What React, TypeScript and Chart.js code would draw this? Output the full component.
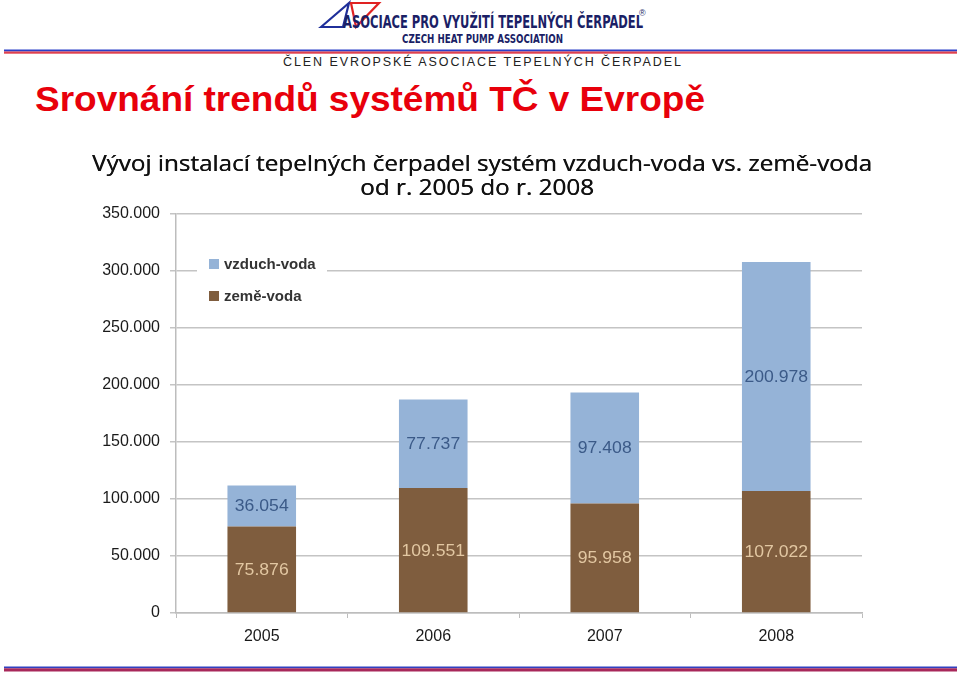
import React, { useEffect, useRef } from 'react';
import { Chart, registerables } from 'chart.js';

Chart.register(...registerables);

// ---- data ----
const years = ['2005', '2006', '2007', '2008'];
const zemeVoda = [75876, 109551, 95958, 107022];
const vzduchVoda = [36054, 77737, 97408, 200978];
const seriesNames = ['vzduch-voda', 'země-voda'];
const yMax = 350000;
const yStep = 50000;
const chartTitleLines = [
  'Vývoj instalací tepelných čerpadel systém vzduch-voda vs. země-voda',
  'od r. 2005 do r. 2008',
];
const slideTitle = 'Srovnání trendů systémů TČ v Evropě';
const assocName = 'ASOCIACE PRO VYUŽITÍ TEPELNÝCH ČERPADEL';
const assocEnglish = 'CZECH HEAT PUMP ASSOCIATION';
const memberLine = 'ČLEN EVROPSKÉ ASOCIACE TEPELNÝCH ČERPADEL';

const BLUE = '#95B3D7';
const BROWN = '#7F5D3E';
const BLUE_LABEL = '#3B5A88';
const BROWN_LABEL = '#E2C7A2';

const fmt = (v: number) => {
  if (v === 0) return '0';
  const s = String(Math.round(v));
  return s.replace(/\B(?=(\d{3})+(?!\d))/g, '.');
};

const decorPlugin = {
  id: 'decor',
  afterDatasetsDraw(chart: any) {
    const ctx = chart.ctx;
    ctx.save();
    ctx.textAlign = 'center';
    ctx.textBaseline = 'middle';
    ctx.font = '16px "Liberation Sans", Arial, sans-serif';
    chart.data.datasets.forEach((ds: any, di: number) => {
      const meta = chart.getDatasetMeta(di);
      meta.data.forEach((el: any, i: number) => {
        const v = ds.data[i];
        const cy = (el.y + el.base) / 2;
        ctx.save();
        ctx.translate(el.x, cy);
        ctx.scale(1.1, 1);
        ctx.fillStyle = ds.labelColor;
        ctx.fillText(fmt(v), 0, 1);
        ctx.restore();
      });
    });
    ctx.restore();
  },
  afterDraw(chart: any) {
    const ctx = chart.ctx;
    const area = chart.chartArea;
    ctx.save();
    // chart title
    ctx.fillStyle = '#111111';
    ctx.textAlign = 'center';
    ctx.textBaseline = 'middle';
    ctx.font = '22px "Open Sans", "DejaVu Sans", sans-serif';
    const w0 = ctx.measureText(chartTitleLines[0]).width;
    const sx = 780 / w0;
    [
      { x: 482, y: 25 },
      { x: 477, y: 49 },
    ].forEach((p, i) => {
      ctx.save();
      ctx.translate(p.x, p.y);
      ctx.scale(sx, 1);
      ctx.fillText(chartTitleLines[i], 0, 0);
      ctx.fillText(chartTitleLines[i], 0.35, 0);
      ctx.restore();
    });
    // legend inside chart area
    const lx = area.left + 21;
    const ly = area.top + 36;
    ctx.fillStyle = '#ffffff';
    ctx.fillRect(lx, ly, 130, 60);
    const items = [
      { name: seriesNames[0], color: BLUE },
      { name: seriesNames[1], color: BROWN },
    ];
    ctx.font = 'bold 15px "Liberation Sans", Arial, sans-serif';
    ctx.textAlign = 'left';
    items.forEach((it, i) => {
      const y = ly + 14 + i * 32;
      ctx.fillStyle = it.color;
      ctx.fillRect(lx + 12, y - 5, 10, 10);
      ctx.fillStyle = '#333333';
      ctx.fillText(it.name, lx + 27, y + 1);
    });
    ctx.restore();
  },
};

function ChartCanvas() {
  const ref = useRef<HTMLCanvasElement>(null);
  useEffect(() => {
    if (!ref.current) return;
    const chart = new Chart(ref.current, {
      type: 'bar',
      data: {
        labels: years,
        datasets: [
          {
            label: seriesNames[1],
            data: zemeVoda,
            backgroundColor: BROWN,
            barPercentage: 0.4,
            categoryPercentage: 1,
            labelColor: BROWN_LABEL,
          } as any,
          {
            label: seriesNames[0],
            data: vzduchVoda,
            backgroundColor: BLUE,
            barPercentage: 0.4,
            categoryPercentage: 1,
            labelColor: BLUE_LABEL,
          } as any,
        ],
      },
      options: {
        animation: false,
        responsive: false,
        maintainAspectRatio: false,
        layout: { padding: { left: 0, right: 98, top: 74, bottom: 0 } },
        plugins: {
          legend: { display: false },
          title: { display: false },
          tooltip: { enabled: false },
        },
        scales: {
          x: {
            stacked: true,
            border: { display: true, color: '#BDBDBD', width: 1.5 },
            grid: {
              display: true,
              drawOnChartArea: false,
              drawTicks: true,
              tickLength: 5,
              color: '#BDBDBD',
              offset: true,
            },
            ticks: {
              color: '#1a1a1a',
              font: { family: '"Liberation Sans", Arial, sans-serif', size: 16 },
              padding: 9,
            },
            afterFit: (scale: any) => {
              scale.height = 47;
            },
          },
          y: {
            stacked: true,
            min: 0,
            max: yMax,
            border: { display: true, color: '#BDBDBD', width: 1.5 },
            grid: {
              color: '#C4C4C4',
              lineWidth: 1.5,
              tickLength: 6,
              drawTicks: true,
            },
            ticks: {
              stepSize: yStep,
              color: '#1a1a1a',
              font: { family: '"Liberation Sans", Arial, sans-serif', size: 16 },
              padding: 10,
              callback: (v: any) => fmt(Number(v)),
            },
            afterFit: (scale: any) => {
              scale.width = 176;
            },
          },
        },
      },
      plugins: [decorPlugin],
    });
    return () => chart.destroy();
  }, []);
  return (
    <canvas
      ref={ref}
      width={960}
      height={520}
      style={{ position: 'absolute', left: 0, top: 140, width: 960, height: 520 }}
    />
  );
}

export default function App() {
  return (
    <div
      style={{
        position: 'absolute',
        left: 0,
        top: 0,
        width: 960,
        height: 676,
        overflow: 'hidden',
        background: '#ffffff',
      }}
    >
      <svg
        width={960}
        height={676}
        style={{ position: 'absolute', left: 0, top: 0 }}
        xmlns="http://www.w3.org/2000/svg"
      >
        {/* logo */}
        <polygon points="321,27 349,3 343,27" fill="none" stroke="#1F2F9A" strokeWidth={2.2} />
        <polygon points="351,3 379,3 356,27" fill="none" stroke="#E02222" strokeWidth={2.2} />
        <text
          x={343}
          y={28}
          textLength={300}
          lengthAdjust="spacingAndGlyphs"
          fontFamily='"Liberation Sans Narrow", "DejaVu Sans Condensed", "Liberation Sans", sans-serif'
          fontWeight="bold"
          fontSize={18}
          fill="#1B1F66"
        >
          {assocName}
        </text>
        <text x={639} y={16} fontFamily='"Liberation Sans", sans-serif' fontSize={9} fill="#1B1F66">
          ®
        </text>
        <text
          x={402}
          y={43}
          textLength={161}
          lengthAdjust="spacingAndGlyphs"
          fontFamily='"Liberation Sans Narrow", "DejaVu Sans Condensed", "Liberation Sans", sans-serif'
          fontWeight="bold"
          fontSize={12}
          fill="#1B1F66"
        >
          {assocEnglish}
        </text>
        <rect x={4} y={49.5} width={953} height={2} fill="#2B3FC8" />
        <rect x={4} y={51.5} width={953} height={2.2} fill="#E0404E" />
        <text
          x={283}
          y={66}
          textLength={398}
          lengthAdjust="spacing"
          fontFamily='"Liberation Sans", Arial, sans-serif'
          fontSize={12.5}
          fill="#222222"
        >
          {memberLine}
        </text>
        <text
          x={35}
          y={111}
          textLength={670}
          lengthAdjust="spacingAndGlyphs"
          fontFamily='"Liberation Sans", Arial, sans-serif'
          fontWeight="bold"
          fontSize={35}
          fill="#E8000B"
        >
          {slideTitle}
        </text>
        <rect x={4} y={666.5} width={953} height={1.8} fill="#3040C0" />
        <rect x={4} y={668.3} width={953} height={3.2} fill="#A8285A" />
      </svg>
      <ChartCanvas />
    </div>
  );
}
